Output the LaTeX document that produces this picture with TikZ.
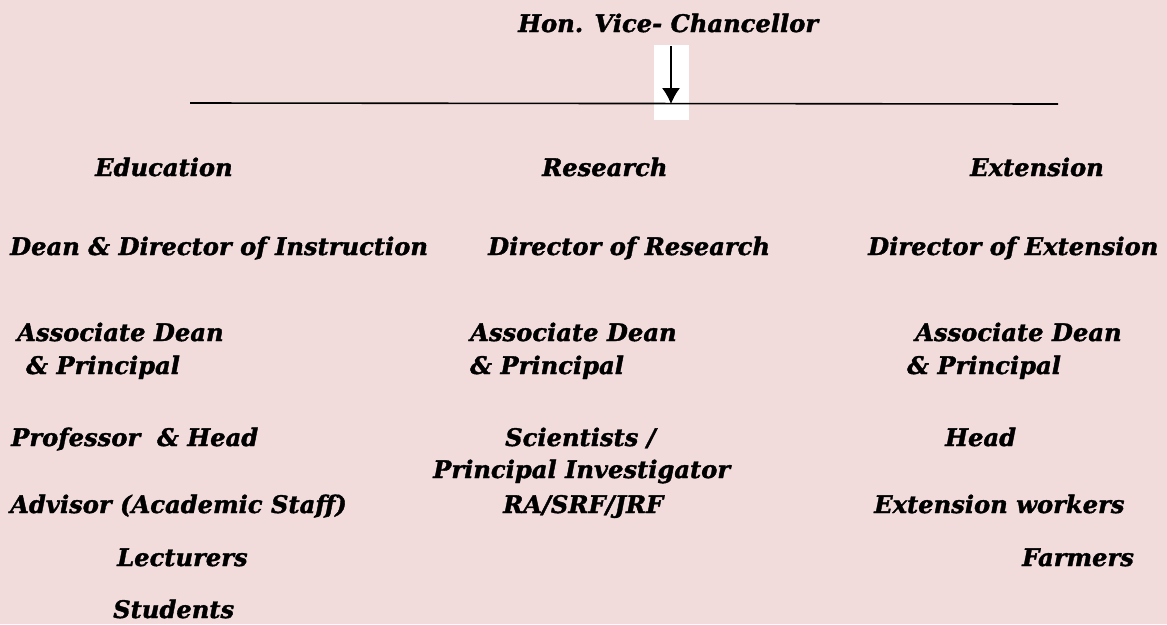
\documentclass[tikz,border=0pt]{standalone}
\usepackage{fontspec}
\setmainfont{DejaVu Serif}[BoldItalicFeatures={FakeBold=1.5}]
\usetikzlibrary{arrows.meta}
\definecolor{bgpink}{HTML}{F2DCDB}
\begin{document}
\begin{tikzpicture}[x=1pt,y=-1pt,
  lbl/.style={anchor=base west,inner sep=0pt,font=\fontsize{24.2}{28}\selectfont\bfseries\itshape},
  conn/.style={line width=1.6pt}]
\fill[bgpink] (0,0) rectangle (1167,624);
\useasboundingbox (0,0) rectangle (1167,624);
\fill[white] (654,45) rectangle (689,120);
\node[lbl] (vc) at (518,32) {Hon. Vice- Chancellor};
\coordinate (arrtop) at (671,46);
\coordinate (lineL) at (190,103);
\coordinate (lineR) at (1058,104);
\coordinate (arrbot) at (671,104);
\draw[conn] (lineL) -- (lineR);
\draw[line width=1.3pt,-{Latex[length=16pt,width=18pt]}] (arrtop) -- (arrbot);
\node[lbl] (edu) at (95,176) {Education};
\node[lbl] (res) at (542,176) {Research};
\node[lbl] (ext) at (970,176) {Extension};
\node[lbl] (ddi) at (10,255) {Dean \& Director of Instruction};
\node[lbl] (dor) at (488,255) {Director of Research};
\node[lbl] (doe) at (868,255) {Director of Extension};
\node[lbl] (ad1) at (17,341) {Associate Dean};
\node[lbl] (ap1) at (26,374) {\& Principal};
\node[lbl] (ad2) at (470,341) {Associate Dean};
\node[lbl] (ap2) at (470,374) {\& Principal};
\node[lbl] (ad3) at (915,341) {Associate Dean};
\node[lbl] (ap3) at (907,374) {\& Principal};
\node[lbl] (ph) at (11,446) {Professor ~\& Head};
\node[lbl] (sci) at (505,446) {Scientists /};
\node[lbl] (hd) at (945,446) {Head};
\node[lbl] (pi) at (433,478) {Principal Investigator};
\node[lbl] (adv) at (10,513) {Advisor (Academic Staff)};
\node[lbl] (ra) at (503,513) {RA/SRF/JRF};
\node[lbl] (ew) at (874,513) {Extension workers};
\node[lbl] (lec) at (117,566) {Lecturers};
\node[lbl] (far) at (1022,566) {Farmers};
\node[lbl] (stu) at (113,618) {Students};
\end{tikzpicture}
\end{document}
